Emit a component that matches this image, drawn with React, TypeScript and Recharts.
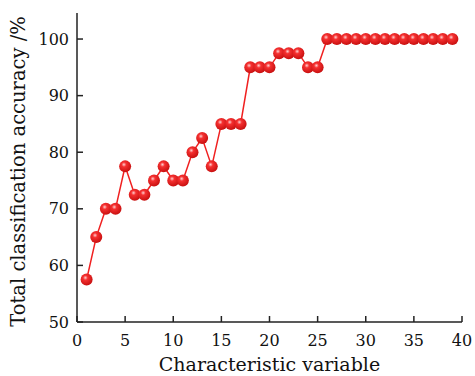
import React from "react";
import { LineChart, Line, XAxis, YAxis } from "recharts";

const variables = [
  1, 2, 3, 4, 5, 6, 7, 8, 9, 10, 11, 12, 13, 14, 15, 16, 17, 18, 19, 20,
  21, 22, 23, 24, 25, 26, 27, 28, 29, 30, 31, 32, 33, 34, 35, 36, 37, 38, 39,
];
const accuracy = [
  57.5, 65, 70, 70, 77.5, 72.5, 72.5, 75, 77.5, 75, 75, 80, 82.5, 77.5, 85, 85, 85, 95, 95, 95,
  97.5, 97.5, 97.5, 95, 95, 100, 100, 100, 100, 100, 100, 100, 100, 100, 100, 100, 100, 100, 100,
];
const xTicks = [0, 5, 10, 15, 20, 25, 30, 35, 40];
const yTicks = [50, 60, 70, 80, 90, 100];

const data = variables.map((v, i) => ({ x: v, acc: accuracy[i] }));

const font = "'DejaVu Serif', serif";

function Ball(props: any) {
  const { cx, cy, index } = props;
  if (cx == null || cy == null) return null;
  return (
    <g key={index}>
      <circle cx={cx} cy={cy} r={6} fill="url(#ball)" />
    </g>
  );
}

export default function App() {
  return (
    <div style={{ position: "absolute", left: 0, top: 0, background: "#fff" }}>
      <LineChart width={475} height={376} data={data} margin={{ top: 13, right: 13, bottom: 0, left: 0 }}>
        <defs>
          <radialGradient id="ball" cx="0.4" cy="0.35" r="0.65">
            <stop offset="0%" stopColor="#ffd0d0" />
            <stop offset="30%" stopColor="#f53030" />
            <stop offset="100%" stopColor="#c81010" />
          </radialGradient>
        </defs>
        <XAxis
          dataKey="x"
          type="number"
          domain={[0, 40]}
          ticks={xTicks}
          interval={0}
          height={54}
          stroke="#222"
          strokeWidth={1.5}
          tickSize={-6}
          tickMargin={19}
          tick={{ fill: "#111", fontSize: 16, fontFamily: font }}
          label={{ value: "Characteristic variable", position: "insideBottom", offset: 5, fill: "#111", fontSize: 19, fontFamily: font }}
        />
        <YAxis
          type="number"
          domain={[50, 104.6]}
          ticks={yTicks}
          interval={0}
          width={77}
          stroke="#222"
          strokeWidth={1.5}
          tickSize={-6}
          tickMargin={14}
          tick={{ fill: "#111", fontSize: 16, fontFamily: font }}
          label={{ value: "Total classification accuracy /%", angle: -90, position: "insideLeft", offset: 18, dy: 4, style: { textAnchor: "middle" }, fill: "#111", fontSize: 19.5, fontFamily: font }}
        />
        <Line
          dataKey="acc"
          stroke="#f02020"
          strokeWidth={1.5}
          dot={<Ball />}
          activeDot={false}
          isAnimationActive={false}
        />
      </LineChart>
    </div>
  );
}
